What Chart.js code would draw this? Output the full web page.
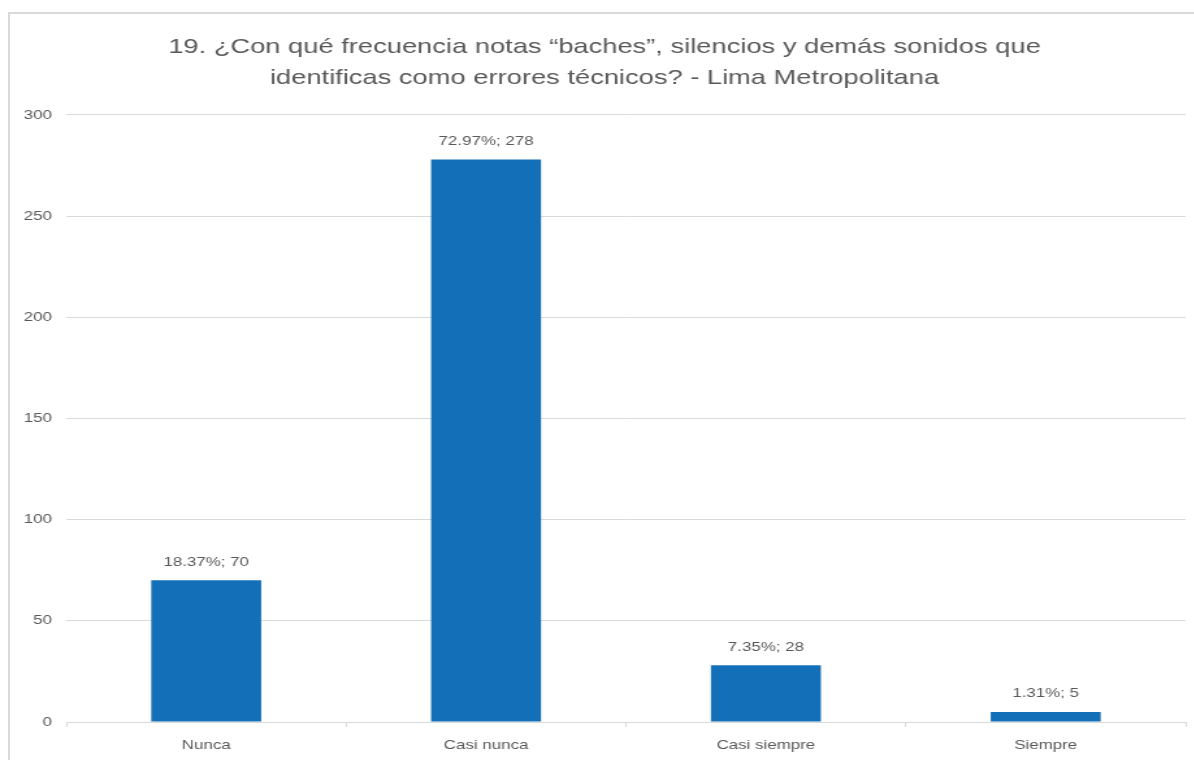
<html lang="es">
<head>
    <meta charset="UTF-8">
    <title>Frecuencia de errores técnicos</title>
    <script src="https://cdn.jsdelivr.net/npm/chart.js"></script>
    <style>
        body { margin: 0; background: #fff; font-family: "Liberation Sans", Arial, sans-serif; overflow: hidden; }
        .frame { position: absolute; left: 8px; top: 12px; width: 1200px; height: 760px; border: 2px solid #d9d9d9; box-sizing: border-box; }
        /* the original picture is stretched sideways, so the chart is too */
        .wrap { position: absolute; left: 0; top: 0; width: 918px; height: 760px; transform: scaleX(1.3); transform-origin: 0 0; }
    </style>
</head>
<body>
    <div class="frame"></div>
    <div class="wrap"><canvas id="freqChart"></canvas></div>

    <script>
        // Datos
        const categories = ['Nunca', 'Casi nunca', 'Casi siempre', 'Siempre'];
        const counts = [70, 278, 28, 5];
        const percents = ['18.37%', '72.97%', '7.35%', '1.31%'];
        const yTicks = [0, 50, 100, 150, 200, 250, 300];

        const grey = '#595959';
        const font = '"Liberation Sans", Arial, sans-serif';

        // Etiquetas encima de cada barra
        const barLabels = {
            id: 'barLabels',
            afterDatasetsDraw(chart) {
                const c = chart.ctx;
                const meta = chart.getDatasetMeta(0);
                c.save();
                c.font = '13px ' + font;
                c.fillStyle = grey;
                c.textAlign = 'center';
                c.textBaseline = 'middle';
                meta.data.forEach((bar, i) => {
                    c.fillText(percents[i] + '; ' + counts[i], bar.x, bar.y - 18);
                });
                c.restore();
            }
        };

        new Chart(document.getElementById('freqChart'), {
            type: 'bar',
            data: {
                labels: categories,
                datasets: [{
                    data: counts,
                    backgroundColor: '#136fb7',
                    borderWidth: 0,
                    categoryPercentage: 1,
                    barPercentage: 0.393
                }]
            },
            options: {
                responsive: true,
                maintainAspectRatio: false,
                animation: false,
                layout: { padding: { left: 18, right: 6, top: 12, bottom: 0 } },
                plugins: {
                    legend: { display: false },
                    tooltip: { enabled: false },
                    title: {
                        display: true,
                        text: ['19. ¿Con qué frecuencia notas “baches”, silencios y demás sonidos que',
                               'identificas como errores técnicos? - Lima Metropolitana'],
                        color: grey,
                        font: { family: font, size: 21, weight: 'normal', lineHeight: 1.476 },
                        padding: { top: 20, bottom: 21 }
                    }
                },
                scales: {
                    x: {
                        grid: { offset: true, drawOnChartArea: false, drawTicks: true, tickLength: 5, color: '#d9d9d9' },
                        border: { color: '#d9d9d9' },
                        ticks: { color: grey, padding: 11, font: { family: font, size: 13 } },
                        afterFit(scale) { scale.height = 38; }
                    },
                    y: {
                        min: 0,
                        max: 300,
                        afterBuildTicks(scale) { scale.ticks = yTicks.map(v => ({ value: v })); },
                        grid: { color: '#d9d9d9', drawTicks: false },
                        border: { display: false },
                        ticks: { color: grey, padding: 11, font: { family: font, size: 13 } },
                        afterFit(scale) { scale.width = 33; }
                    }
                }
            },
            plugins: [barLabels]
        });
    </script>
</body>
</html>
